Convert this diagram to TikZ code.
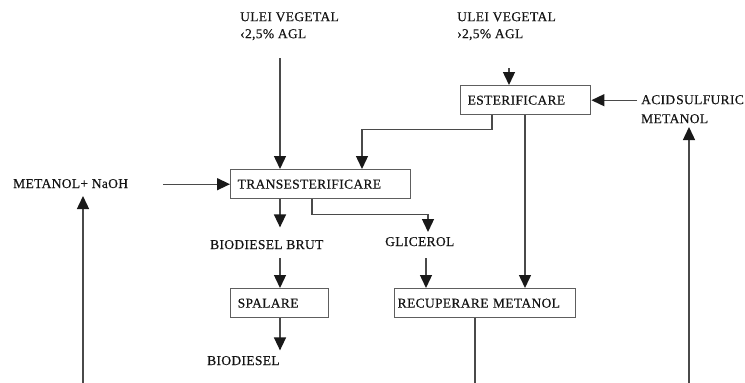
\documentclass[tikz,border=0pt]{standalone}
\usepackage{fontspec}
\setmainfont{Liberation Serif}[LetterSpace=2.5,FakeBold=0.4]
\usetikzlibrary{arrows.meta,calc}
\definecolor{linegray}{HTML}{4A4A4A}
\definecolor{boxgray}{HTML}{5E5E5E}
\begin{document}
\begin{tikzpicture}[x=1pt,y=-1pt,
  lbl/.style={inner sep=0pt, font=\fontsize{13.5}{17}\selectfont, text=black!92},
  box/.style={draw=boxgray, line width=1.4pt, rectangle, inner xsep=7pt, inner ysep=0pt,
              align=left, minimum height=29pt, font=\fontsize{13.5}{15}\selectfont,
              text=black!92, anchor=north west},
  flow/.style={draw=linegray, line width=1.4pt},
  arr/.style={flow, -{Triangle[length=13pt,width=12pt,color=black!90]}}]
\useasboundingbox (0,0) rectangle (745,383);

% process steps
\node[box, text width=116pt] (est)   at (460,85)  {ESTERIFICARE};
\node[box, text width=166pt] (trans) at (230,169) {TRANSESTERIFICARE};
\node[box, text width=84pt]  (spal)  at (230,288) {SPALARE};
\node[box, text width=175pt, inner xsep=3pt] (recup) at (394,288) {RECUPERARE METANOL};

% inputs and products
\node[lbl, anchor=north west, align=left] (ulei1) at (240,12) {ULEI VEGETAL\\‹2,5\% AGL};
\node[lbl, anchor=north west, align=left] (ulei2) at (457,12) {ULEI VEGETAL\\›2,5\% AGL};
\node[lbl, anchor=north west, align=left, font=\fontsize{13.5}{19}\selectfont] (acid) at (641,95) {ACID\hspace{1pt}SULFURIC\\METANOL};
\node[lbl, anchor=base west] (naoh) at (13,188)  {METANOL+ NaOH};
\node[lbl, anchor=base west] (brut) at (210,249) {BIODIESEL BRUT};
\node[lbl, anchor=base west] (glic) at (385,246) {GLICEROL};
\node[lbl, anchor=base west] (bio)  at (207,365) {BIODIESEL};

% connector end points
\coordinate (u1) at (280,58);
\coordinate (u2) at (509,68);
\coordinate (a1) at (637,99);
\coordinate (m1) at (163,183);
\coordinate (b1) at (280,258);
\coordinate (g1) at (426,258);
\coordinate (g2) at (428,232);
\coordinate (r1) at (475,383);
\coordinate (r2) at (689,383);
\coordinate (r3) at (83,383);

% oil feeds
\draw[arr] (u1) -- (u1 |- trans.north);
\draw[arr] (u2) -- (u2 |- est.north);
\draw[arr] (a1 |- est.east) -- (est.east);

% esterification outputs
\draw[arr] ($(est.south west)+(32,0)$) -- ++(0,14) -| ($(trans.north west)+(132,0)$);
\draw[arr] ($(est.south west)+(65,0)$) -- ($(recup.north west)+(131,0)$);

% transesterification
\draw[arr] (m1 |- trans.west) -- (trans.west);
\draw[arr] ($(trans.south west)+(50,0)$) -- ++(0,28);
\draw[arr] ($(trans.south west)+(82,0)$) -- ++(0,15) -| (g2);

% washing and methanol recovery
\draw[arr] (b1) -- (b1 |- spal.north);
\draw[arr] ($(spal.south west)+(50,0)$) -- ++(0,32);
\draw[arr] (g1) -- (g1 |- recup.north);

% methanol recycle
\draw[flow] (recup.south -| r1) -- (r1);
\draw[arr] (r2) -- (689,127);
\draw[arr] (r3) -- (83,196);
\end{tikzpicture}
\end{document}
